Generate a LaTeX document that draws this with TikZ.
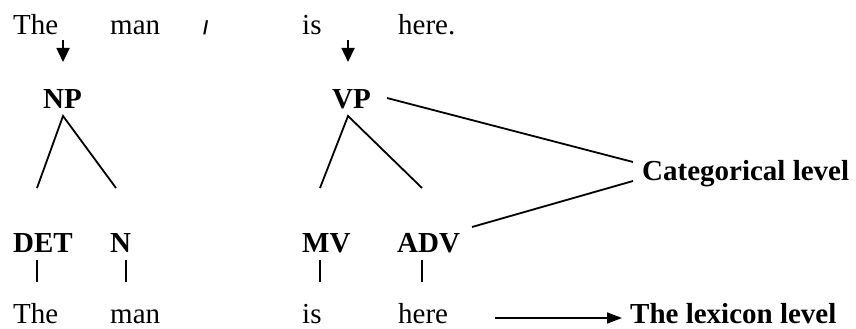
\documentclass[tikz,border=0pt]{standalone}
\usepackage{fontspec}
\setmainfont{Liberation Serif}
\newfontfamily\slashfont{Liberation Sans}
\usetikzlibrary{arrows.meta,calc}
\begin{document}
\begin{tikzpicture}[x=1pt,y=-1pt,
  word/.style={anchor=base west,inner sep=0pt,font=\fontsize{29}{34}\selectfont},
  cat/.style={anchor=base west,inner sep=0pt,font=\fontsize{29}{34}\selectfont\bfseries},
  branch/.style={line width=1.8pt},
  down/.style={line width=1.7pt,-{Triangle[length=14pt,width=13pt]}},
  lexarrow/.style={line width=1.7pt,-{Triangle[length=15pt,width=11pt]}},
  tick/.style={line width=1.5pt}]
\useasboundingbox (0,0) rectangle (856,329);

% sentence on top
\node[word] (t1) at (13,35) {The};
\node[word] (t2) at (110,35) {man};
\node[anchor=base west,inner sep=0pt,font=\fontsize{19}{22}\slashfont\bfseries] (sl) at (203,35) {/};
\node[word] (t3) at (302,35) {is};
\node[word] (t4) at (398,35) {here.};

% phrase categories
\node[cat] (np) at (43,108) {NP};
\node[cat] (vp) at (332,108) {VP};

% word categories
\node[cat] (det) at (13,252) {DET};
\node[cat] (n) at (110,252) {N};
\node[cat] (mv) at (302,252) {MV};
\node[cat] (adv) at (397,252) {ADV};

% words at the bottom
\node[word] (b1) at (13,323) {The};
\node[word] (b2) at (110,323) {man};
\node[word] (b3) at (302,323) {is};
\node[word] (b4) at (398,323) {here};

% level labels
\node[cat] (catlvl) at (642,180) {Categorical level};
\node[cat] (lexlvl) at (630,323) {The lexicon level};

% arrows from the sentence down to the phrases
\draw[down] ($(np.base)+(0.5,-68)$) -- ($(np.base)+(0.5,-46)$);
\draw[down] ($(vp.base)+(-3.5,-68)$) -- ($(vp.base)+(-3.5,-46)$);

% branches of the two trees
\coordinate (npTop) at ($(np.base)+(0.5,8)$);
\coordinate (npL) at (37,188);
\coordinate (npR) at (116,188);
\draw[branch] (npL) -- (npTop) -- (npR);
\coordinate (vpTop) at ($(vp.base)+(-3.5,8)$);
\coordinate (vpL) at (320,188);
\coordinate (vpR) at (422,188);
\draw[branch] (vpL) -- (vpTop) -- (vpR);

% ticks joining categories and words
\draw[tick] (det.base west) ++(24,8) -- ++(0,22);
\draw[tick] (n.base west) ++(16,8) -- ++(0,22);
\draw[tick] (mv.base west) ++(18,8) -- ++(0,22);
\draw[tick] (adv.base west) ++(25,8) -- ++(0,22);

% lines to the categorical level label
\coordinate (vpOut) at (387,98);
\coordinate (advOut) at (472,227);
\draw[branch] (vpOut) -- ($(catlvl.base west)+(-9,-18)$);
\draw[branch] (advOut) -- ($(catlvl.base west)+(-9,1)$);

% arrow to the lexicon level label
\coordinate (lexStart) at (495,318);
\draw[lexarrow] (lexStart) -- ($(lexlvl.base west)+(-8,-5)$);
\end{tikzpicture}
\end{document}
